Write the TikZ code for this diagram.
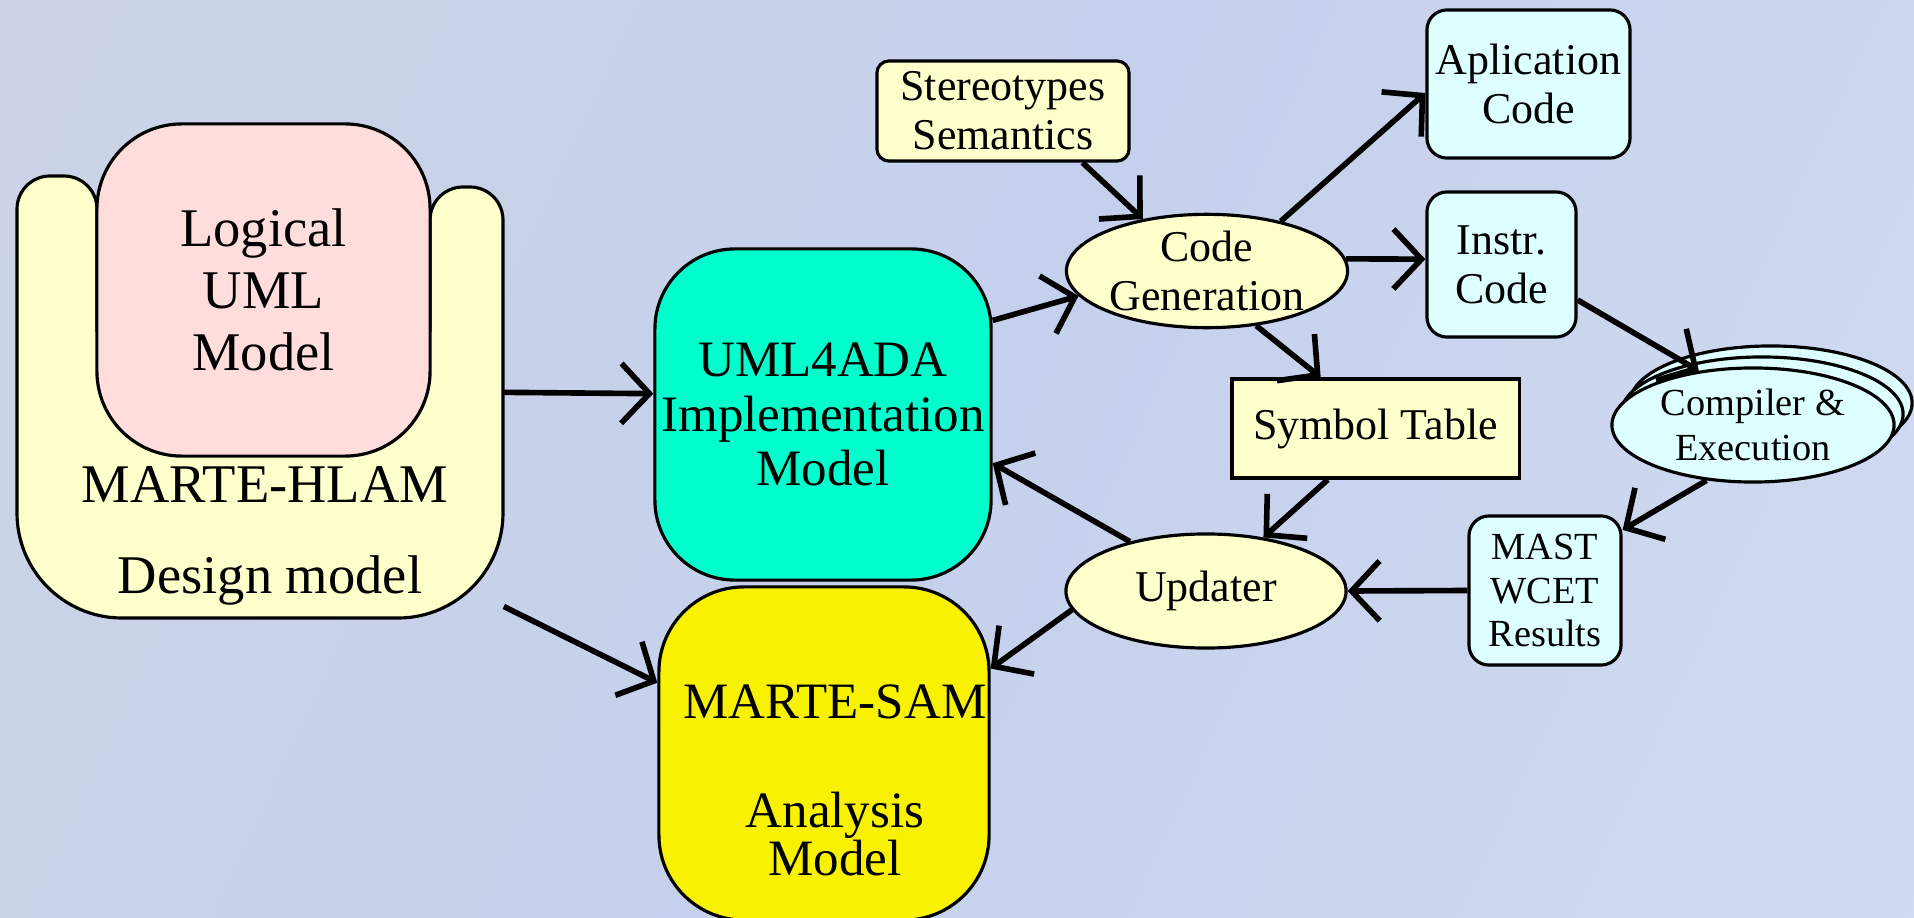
\documentclass[tikz,border=0pt]{standalone}
\usepackage{fontspec}
\setmainfont{Liberation Serif}
\usetikzlibrary{arrows.meta,shapes.geometric,shadows}
\definecolor{bgl}{RGB}{208,213,226}
\definecolor{bgm}{RGB}{197,208,236}
\definecolor{bgr}{RGB}{216,224,243}
\definecolor{cream}{RGB}{255,255,204}
\definecolor{rosefill}{RGB}{255,221,221}
\definecolor{aqua}{RGB}{0,255,204}
\definecolor{samyellow}{RGB}{248,242,0}
\definecolor{ice}{RGB}{221,255,255}
\pgfdeclarehorizontalshading{bgshade}{100bp}{color(0bp)=(bgl); color(50bp)=(bgm); color(100bp)=(bgr)}
\tikzstyle{big box}=[draw, line width=0.9pt, rounded corners=0.85cm, inner sep=0pt,
    align=center, font=\fontsize{15.5}{17.6}\selectfont]
\tikzstyle{big text}=[inner sep=0pt, align=center, font=\fontsize{14.5}{13.4}\selectfont]
\tikzstyle{small box}=[draw, line width=0.9pt, rounded corners=0.2cm, inner sep=0pt,
    align=center, font=\fontsize{12.5}{14}\selectfont]
\tikzstyle{oval}=[ellipse, draw, line width=0.9pt, inner sep=0pt, align=center,
    font=\fontsize{12.5}{14}\selectfont]
\tikzstyle{flow}=[->, >={Straight Barb[length=8pt,width=17pt]}, line width=1.6pt]

\begin{document}
\begin{tikzpicture}[x=0.01cm, y=-0.01cm]
    \clip (0,0) rectangle (1914,918);
    \shade[shading=bgshade, shading angle=-25] (0,0) rectangle (1914,918);

    % design model
    \filldraw[fill=cream, line width=0.9pt]
        (97,330) [rounded corners=0.33cm] -- (97,176) -- (17,176) -- (17,300)
        [rounded corners=1.05cm] -- (17,618) -- (503,618) -- (503,400)
        [rounded corners=0.33cm] -- (503,187) -- (430,187) -- (430,260)
        [sharp corners] -- (430,330) -- cycle;
    \node[minimum width=4.86cm, minimum height=4.94cm] (hlam) at (260,371) {};
    \node[big box, fill=rosefill, minimum width=3.33cm, minimum height=3.32cm] (logic) at (263.5,290)
        {Logical\\UML\\Model};
    \node[big text, font=\fontsize{15.5}{17.6}\selectfont, anchor=base] (hlamname) at (265,502) {MARTE-HLAM};
    \node[big text, font=\fontsize{15.5}{17.6}\selectfont, anchor=base] (hlamkind) at (270,593) {Design model};

    % models
    \node[big box, fill=aqua, rounded corners=0.8cm, minimum width=3.36cm, minimum height=3.31cm,
        font=\fontsize{14.5}{15.4}\selectfont] (uml) at (823,414.5) {UML4ADA\\Implementation\\Model};
    \node[big box, fill=samyellow, minimum width=3.30cm, minimum height=3.33cm] (sam) at (824,753.5) {};
    \node[big text] (samname) at (835,702) {MARTE-SAM};
    \node[big text] (samkind) at (835,834) {Analysis\\Model};

    % tool chain
    \node[small box, fill=cream, rounded corners=0.12cm, minimum width=2.52cm, minimum height=1.0cm]
        (stereo) at (1003,111) {Stereotypes\\Semantics};
    \node[oval, fill=cream, minimum width=2.81cm, minimum height=1.10cm] (codegen) at (1207,271) {Code\\Generation};
    \node[small box, fill=ice, minimum width=2.03cm, minimum height=1.48cm] (app) at (1528.5,84) {Aplication\\Code};
    \node[small box, fill=ice, minimum width=1.49cm, minimum height=1.45cm] (instr) at (1501.5,264.5) {Instr.\\Code};
    \node[small box, fill=cream, sharp corners, minimum width=2.87cm, minimum height=0.99cm]
        (symtab) at (1375.5,428.5) {Symbol Table};
    \node[oval, fill=ice, minimum width=2.82cm, minimum height=1.14cm, font=\fontsize{10.9}{13}\selectfont,
        double copy shadow={shadow xshift=0.09cm, shadow yshift=0.11cm}] (comp) at (1753,425) {Compiler \&\\Execution};
    \node[small box, fill=ice, minimum width=1.52cm, minimum height=1.49cm, font=\fontsize{10.9}{12.4}\selectfont]
        (mast) at (1545,590.5) {MAST\\WCET\\Results};
    \node[oval, fill=cream, minimum width=2.80cm, minimum height=1.14cm] (upd) at (1206,591) {Updater};

    \draw[flow] (hlam.-5) -- (uml.173);
    \draw[flow] (hlam.-44) -- (sam.157);
    \draw[flow] (uml.29) -- (codegen.191);
    \draw[flow] (stereo.-33) -- (codegen.141);
    \draw[flow] (codegen.34) -- (app.185);
    \draw[flow] (codegen.5) -- (instr.176);
    \draw[flow] (codegen.-48) -- (symtab.137);
    \draw[flow] (instr.-25) -- (comp.135);
    \draw[flow] (comp.230) -- (mast.38);
    \draw[flow] (mast.west) -- (upd.east);
    \draw[flow] (symtab.227) -- (upd.43);
    \draw[flow] (upd.147) -- (uml.-16);
    \draw[flow] (upd.188) -- (sam.27);
\end{tikzpicture}
\end{document}
